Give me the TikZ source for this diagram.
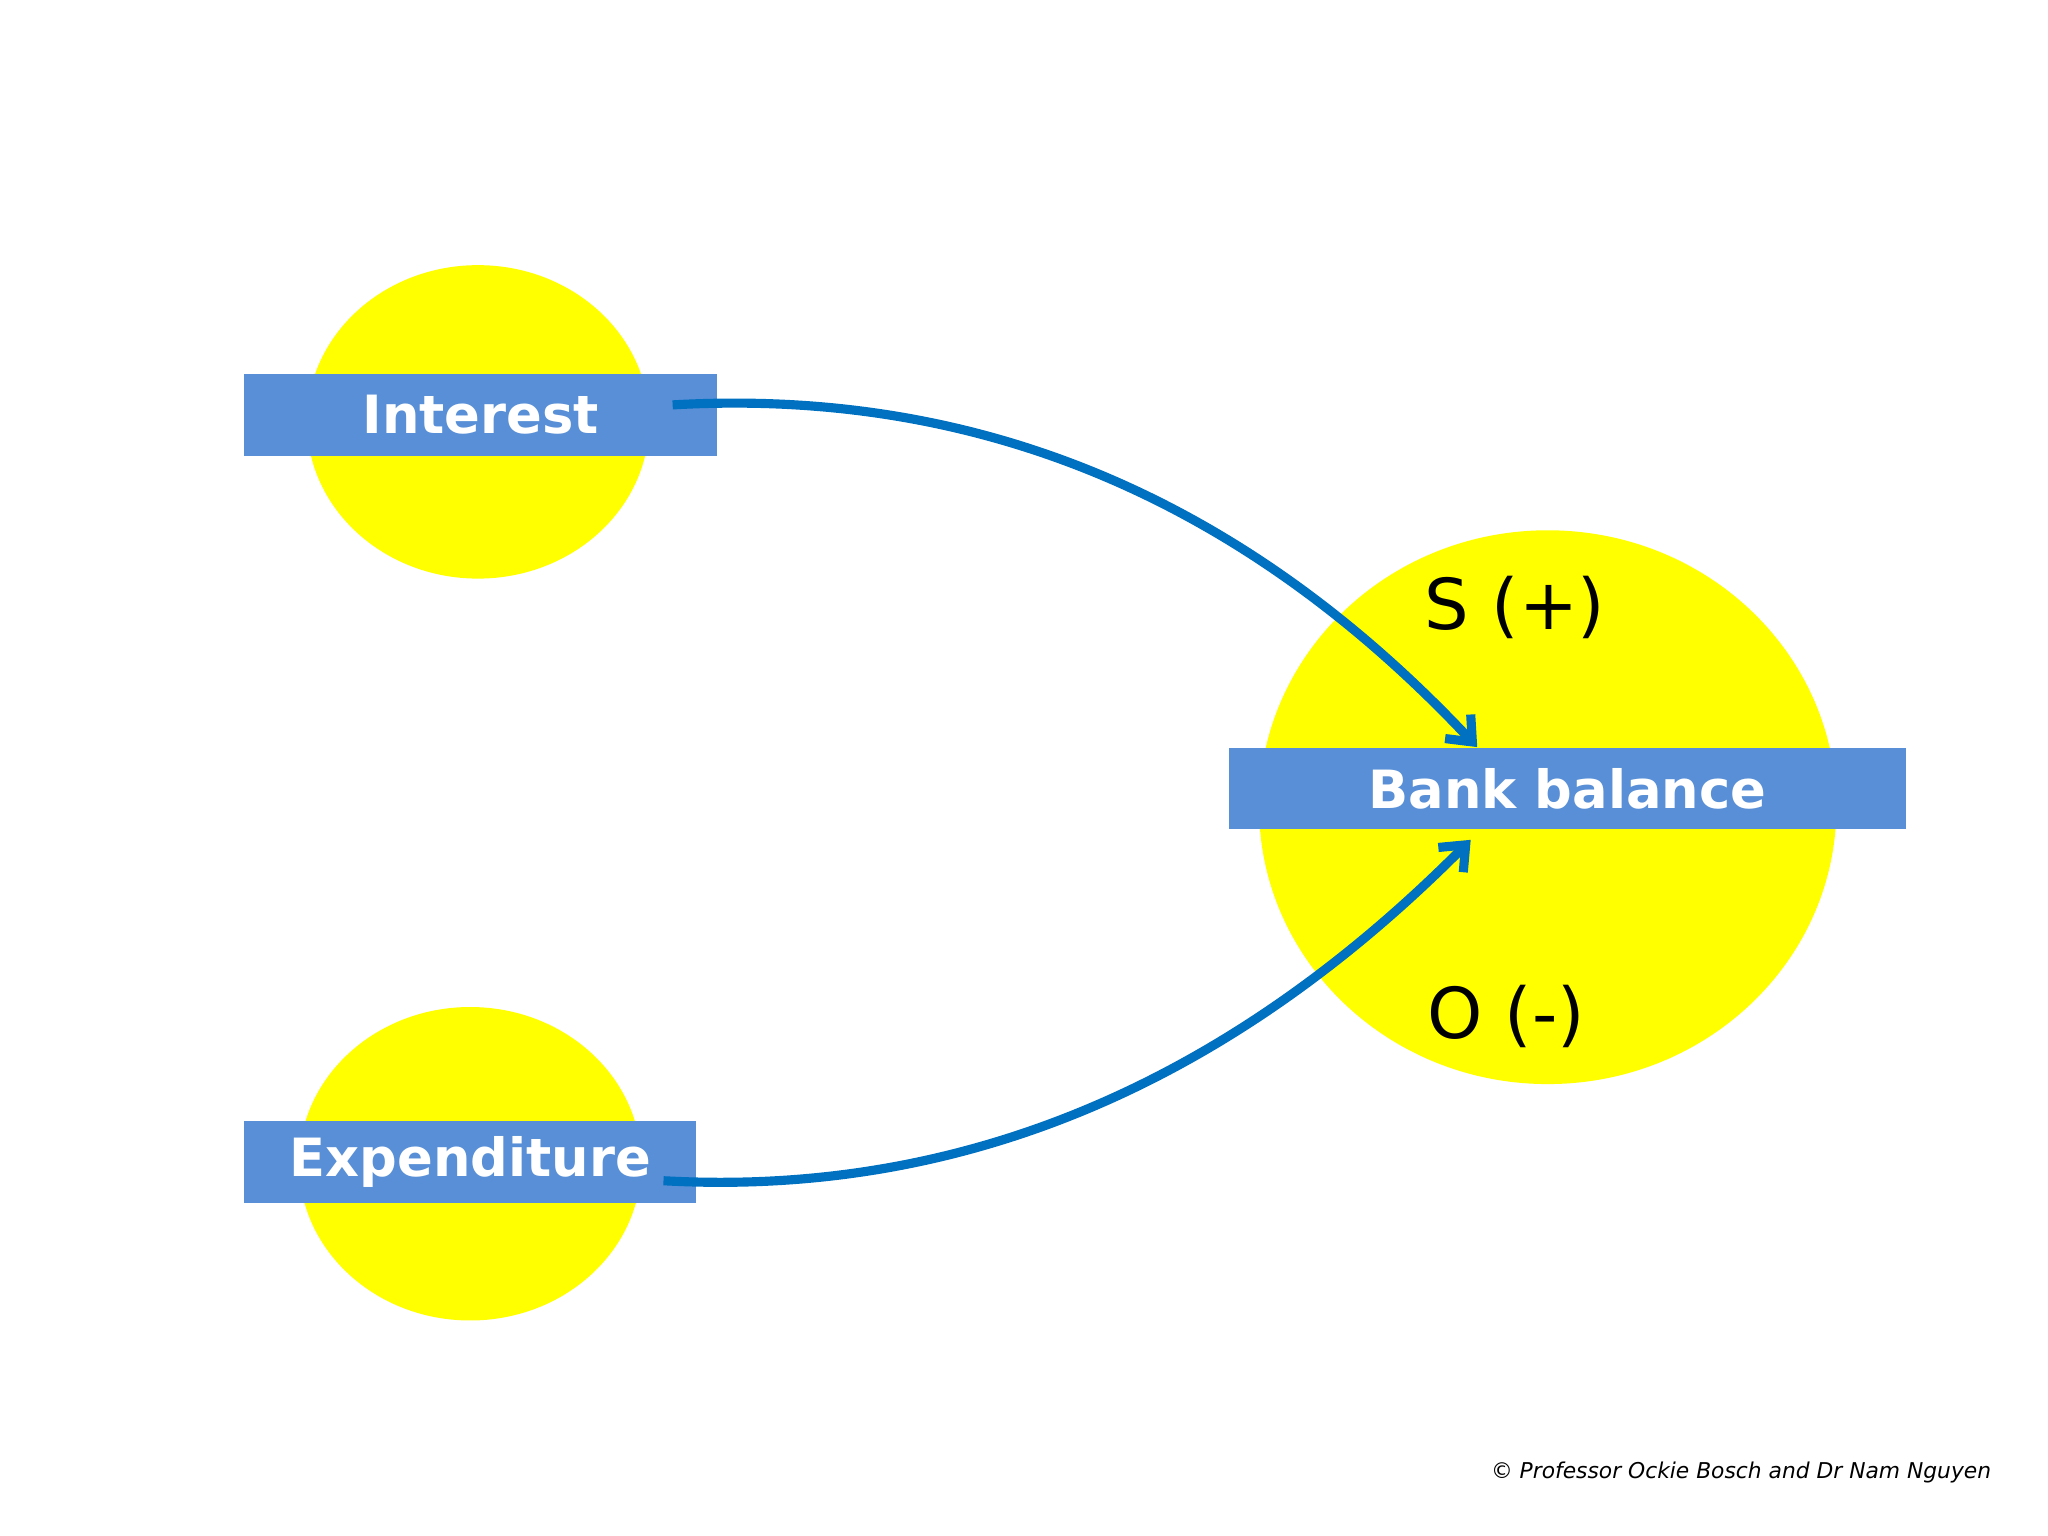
\documentclass[tikz,border=0pt]{standalone}
\usepackage{fontspec}
\setmainfont{DejaVu Sans}
\usetikzlibrary{shapes.geometric,arrows.meta}
\definecolor{sunny}{RGB}{255,255,0}
\definecolor{boxblue}{RGB}{88,143,214}
\definecolor{arrowblue}{RGB}{0,112,192}
\tikzset{
  blob/.style={ellipse, fill=sunny, inner sep=0pt},
  label box/.style={fill=boxblue, text=white, font=\fontsize{15}{18}\selectfont\bfseries, inner sep=0pt},
  link/.style={->, line width=2.6pt, arrowblue, >={Straight Barb[length=6pt,width=10pt]}}
}
\begin{document}
\begin{tikzpicture}[x=0.01306cm, y=-0.01306cm]
    \useasboundingbox (0,0) rectangle (1568,1176);

    % Yellow circles
    \node[blob, minimum width=262*0.01306cm, minimum height=240*0.01306cm] (intblob) at (366,323) {};
    \node[blob, minimum width=262*0.01306cm, minimum height=240*0.01306cm] (expblob) at (360,891) {};
    \node[blob, minimum width=442*0.01306cm, minimum height=424*0.01306cm] (bankblob) at (1185,618) {};

    % Labels
    \node[label box, minimum width=362*0.01306cm, minimum height=63*0.01306cm] (interest) at (368,317.5) {Interest};
    \node[label box, minimum width=346*0.01306cm, minimum height=63*0.01306cm] (expenditure) at (360,889.5) {Expenditure};
    \node[label box, minimum width=518*0.01306cm, minimum height=62*0.01306cm] (bank) at (1200,604) {Bank balance};

    \node[font=\fontsize{20}{24}\selectfont] (plus) at (1160,465) {S (+)};
    \node[font=\fontsize{20}{24}\selectfont] (minus) at (1153,778) {O (-)};

    % Links
    \coordinate (intout) at (515,310);
    \coordinate (expout) at (508,904);
    \coordinate (bankin) at (1131,572);
    \coordinate (bankout) at (1126,643);
    \draw[link] (intout) .. controls (760,296) and (960,390) .. (bankin);
    \draw[link] (expout) .. controls (760,918) and (960,810) .. (bankout);

    \node[font=\fontsize{6.2}{8}\selectfont\itshape] (credit) at (1333,1127) {© Professor Ockie Bosch and Dr Nam Nguyen};
\end{tikzpicture}
\end{document}
